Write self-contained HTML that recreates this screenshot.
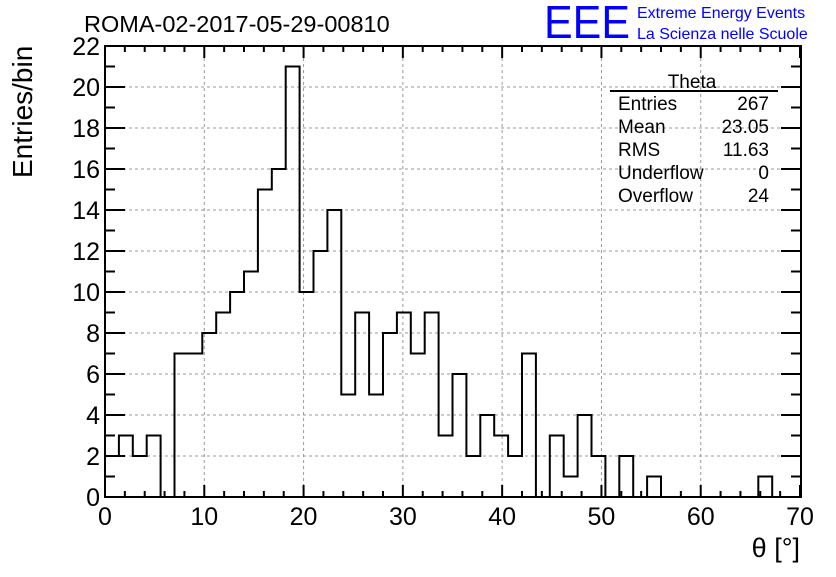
<!DOCTYPE html>
<html><head><meta charset="utf-8"><style>
body{margin:0;background:#fff;}
svg text{font-family:"Liberation Sans",sans-serif;}
</style></head><body>
<svg width="836" height="572" xmlns="http://www.w3.org/2000/svg">
<rect width="836" height="572" fill="#fff"/>
<g id="grid"></g>
<g id="ticks"></g>
<path id="hist" fill="none" stroke="#000" stroke-width="2"/>
<rect x="105" y="46" width="696" height="451" fill="none" stroke="#000" stroke-width="2"/>
<g id="labels" font-size="25" fill="#000"></g>
<text x="84" y="32" font-size="23.5">ROMA-02-2017-05-29-00810</text>
<text x="544" y="38" font-size="46" fill="#0000ff" textLength="86" lengthAdjust="spacingAndGlyphs">EEE</text>
<text x="637" y="18" font-size="16" fill="#0000ff">Extreme Energy Events</text>
<text x="637" y="39" font-size="16" fill="#0000ff">La Scienza nelle Scuole</text>
<text x="800" y="557" font-size="27" text-anchor="end">θ [°]</text>
<text transform="translate(32,178) rotate(-90)" font-size="28">Entries/bin</text>
<g font-size="19">
<text x="692" y="88" text-anchor="middle">Theta</text>
<line x1="610" y1="91" x2="778" y2="91" stroke="#000" stroke-width="2"/>
<text x="618" y="110">Entries</text><text x="769" y="110" text-anchor="end">267</text>
<text x="618" y="133">Mean</text><text x="769" y="133" text-anchor="end">23.05</text>
<text x="618" y="156">RMS</text><text x="769" y="156" text-anchor="end">11.63</text>
<text x="618" y="179">Underflow</text><text x="769" y="179" text-anchor="end">0</text>
<text x="618" y="202">Overflow</text><text x="769" y="202" text-anchor="end">24</text>
</g>
</svg>
<script>
const binCounts=[2,3,2,3,0,7,7,8,9,10,11,15,16,21,10,12,14,5,9,5,8,9,7,9,3,6,2,4,3,2,7,0,3,1,4,2,0,2,0,1,0,0,0,0,0,0,0,1,0,0];
const binWidth=1.4;
const xTicks=[0,10,20,30,40,50,60,70];
const yTicks=[0,2,4,6,8,10,12,14,16,18,20,22];
const X=v=>105+v*(696/70.1);
const Y=v=>497-v*(451/22);
const NS="http://www.w3.org/2000/svg";
let d="M"+X(0)+" "+Y(0);
binCounts.forEach((c,i)=>{d+=" L"+X(i*binWidth)+" "+Y(c)+" L"+X((i+1)*binWidth)+" "+Y(c);});
d+=" L"+X(binCounts.length*binWidth)+" "+Y(0);
document.getElementById('hist').setAttribute('d',d);
const grid=document.getElementById('grid'),ticks=document.getElementById('ticks'),labels=document.getElementById('labels');
function ln(p,x1,y1,x2,y2,st,w,dash){const l=document.createElementNS(NS,'line');l.setAttribute('x1',x1);l.setAttribute('y1',y1);l.setAttribute('x2',x2);l.setAttribute('y2',y2);l.setAttribute('stroke',st);l.setAttribute('stroke-width',w);if(dash)l.setAttribute('stroke-dasharray',dash);p.appendChild(l);return l;}
xTicks.forEach(t=>{const x=X(t);
 if(t>0&&t<70){const g=ln(grid,x,46,x,497,'#999',1,'3,3');
 }
 ln(ticks,x,497,x,485,'#000',2);ln(ticks,x,46,x,58,'#000',2);
 const tx=document.createElementNS(NS,'text');tx.setAttribute('x',x);tx.setAttribute('y',525);tx.setAttribute('text-anchor','middle');tx.textContent=t;
 
 
 labels.appendChild(tx);});
for(let v=2;v<70;v+=2){if(v%10){const x=X(v);ln(ticks,x,497,x,491,'#000',2);ln(ticks,x,46,x,52,'#000',2);}}
yTicks.forEach(t=>{const y=Y(t);
 if(t>0&&t<22){const g=ln(grid,105,y,801,y,'#999',1,'3,3');
 }
 ln(ticks,105,y,125,y,'#000',2);ln(ticks,801,y,781,y,'#000',2);
 const tx=document.createElementNS(NS,'text');tx.setAttribute('x',100);tx.setAttribute('y',y+9);tx.setAttribute('text-anchor','end');tx.textContent=t;
 
 
 labels.appendChild(tx);});
for(let v=1;v<22;v+=2){const y=Y(v);ln(ticks,105,y,115,y,'#000',2);ln(ticks,801,y,791,y,'#000',2);}
</script>
</body></html>
